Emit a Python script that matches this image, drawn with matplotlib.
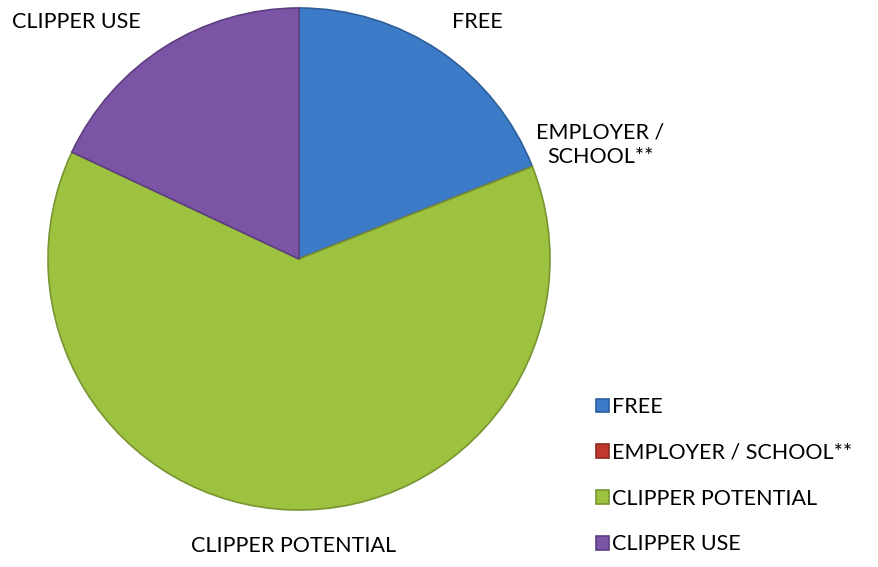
import matplotlib.pyplot as plt

categories = ['FREE', 'EMPLOYER / SCHOOL**', 'CLIPPER POTENTIAL', 'CLIPPER USE']
shares = [19, 0, 63, 18]
colors = ['#3c7bc7', '#c0392f', '#9cc23f', '#7b54a6']
edges = ['#2d5e99', '#8e2a22', '#789532', '#5c3f7e']

# label text shown around the pie (with line breaks as in the original)
pie_labels = ['FREE', 'EMPLOYER /\nSCHOOL**', 'CLIPPER POTENTIAL', 'CLIPPER USE']
label_pos = [(0.71, 0.945), (1.2, 0.455), (-0.02, -1.145), (-0.885, 0.945)]

plt.rcParams['font.family'] = ['Lato', 'DejaVu Sans']

fig = plt.figure(figsize=(8.79, 5.67), dpi=100)
ax = fig.add_axes([48 / 879, 1 - 510 / 567, 502 / 879, 502 / 567])

wedges, _ = ax.pie(shares, colors=colors, startangle=90, counterclock=False,
                   radius=1.0,
                   wedgeprops=dict(linewidth=1.2))
for w, ec in zip(wedges, edges):
    w.set_edgecolor(ec)

ax.set_xlim(-1, 1)
ax.set_ylim(-1, 1)
ax.set_aspect('equal')

for txt, (x, y) in zip(pie_labels, label_pos):
    ax.text(x, y, txt, ha='center', va='center', fontsize=15.5,
            color='black', clip_on=False, linespacing=1.25)

leg = fig.legend(wedges, categories, loc='upper left',
                 bbox_to_anchor=(596 / 879, 1 - 397 / 567),
                 frameon=False, fontsize=15.5,
                 handlelength=0.6, handleheight=0.6,
                 handletextpad=0.15, labelspacing=1.2,
                 borderaxespad=0, borderpad=0)

fig.savefig('out.png', dpi=100)
